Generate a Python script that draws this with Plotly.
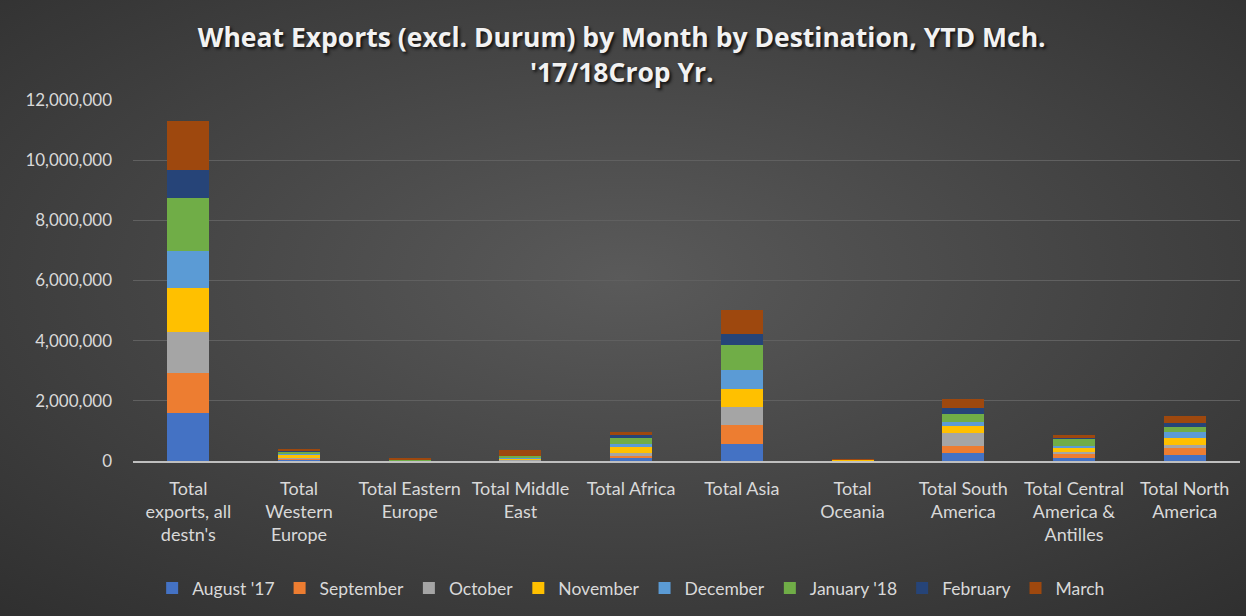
import base64
import plotly.graph_objects as go

categories = [
    "Total<br>exports, all<br>destn's",
    "Total<br>Western<br>Europe",
    "Total Eastern<br>Europe",
    "Total Middle<br>East",
    "Total Africa",
    "Total Asia",
    "Total<br>Oceania",
    "Total South<br>America",
    "Total Central<br>America &<br>Antilles",
    "Total North<br>America",
]

months = ["August '17", "September", "October", "November", "December",
          "January '18", "February", "March"]

aug = [1585000, 50000, 5000, 20000, 120000, 550000, 5000, 250000, 110000, 200000]
sep = [1330000, 30000, 0, 10000, 40000, 650000, 2000, 240000, 110000, 240000]
octo = [1365000, 30000, 0, 10000, 90000, 590000, 2000, 440000, 80000, 80000]
nov = [1460000, 120000, 10000, 50000, 220000, 590000, 40000, 230000, 140000, 230000]
dec = [1240000, 30000, 5000, 10000, 110000, 650000, 3000, 130000, 60000, 210000]
jan = [1770000, 60000, 30000, 50000, 170000, 810000, 3000, 280000, 250000, 170000]
feb = [920000, 20000, 10000, 0, 110000, 390000, 2000, 190000, 30000, 140000]
mar = [1640000, 50000, 10000, 200000, 110000, 780000, 3000, 310000, 80000, 220000]

series = [aug, sep, octo, nov, dec, jan, feb, mar]
colors = ["#4472C4", "#ED7D31", "#A5A5A5", "#FFC000", "#5B9BD5",
          "#70AD47", "#264478", "#9E480E"]

fig = go.Figure()
for name, vals, col in zip(months, series, colors):
    fig.add_trace(go.Bar(x=categories, y=vals, name=name,
                         marker=dict(color=col, line=dict(width=0))))

svg = """<svg xmlns='http://www.w3.org/2000/svg' width='1246' height='616'>
<defs><radialGradient id='g' cx='50%' cy='45%' r='75%'>
<stop offset='0%' stop-color='#5a5a5a'/><stop offset='100%' stop-color='#2f2f2f'/>
</radialGradient></defs><rect width='1246' height='616' fill='url(#g)'/></svg>"""
uri = "data:image/svg+xml;base64," + base64.b64encode(svg.encode()).decode()

fig.update_layout(
    barmode="stack",
    bargap=0.62,
    width=1246, height=616,
    margin=dict(l=133, r=6, t=100, b=155),
    paper_bgcolor="#444444",
    plot_bgcolor="rgba(0,0,0,0)",
    font=dict(family="Lato, Open Sans, sans-serif", color="#d9d9d9", size=15),
    title=dict(
        text="Wheat Exports (excl. Durum) by Month by Destination, YTD Mch.<br>'17/18Crop Yr.",
        x=0.499, xref="container", xanchor="center",
        y=0.923, yref="container", yanchor="middle",
        font=dict(family="Open Sans, sans-serif", size=26.5, color="#f2f2f2",
                  weight="bold", shadow="2px 2px 3px #111111"),
    ),
    images=[dict(source=uri, xref="paper", yref="paper", x=-133/1107, y=1 + 100/361,
                 sizex=1246/1107, sizey=616/361, xanchor="left", yanchor="top",
                 sizing="stretch", layer="below")],
    legend=dict(orientation="h", x=0.45, xanchor="center", y=-0.352, yanchor="middle",
                font=dict(size=17.5, color="#d9d9d9"), traceorder="normal",
                itemwidth=30, bgcolor="rgba(0,0,0,0)"),
    yaxis=dict(range=[0, 12000000], dtick=2000000, tickformat=",",
               gridcolor="#606060", gridwidth=1, zeroline=False,
               showline=False, tickfont=dict(size=17, color="#d9d9d9"),
               ticks="", ticklabelstandoff=20),
    xaxis=dict(showline=True, linecolor="#bfbfbf", linewidth=2,
               tickfont=dict(size=18, color="#d9d9d9"), ticks="",
               tickangle=0, ticklabelstandoff=10),
)

fig.write_html("out.html")
